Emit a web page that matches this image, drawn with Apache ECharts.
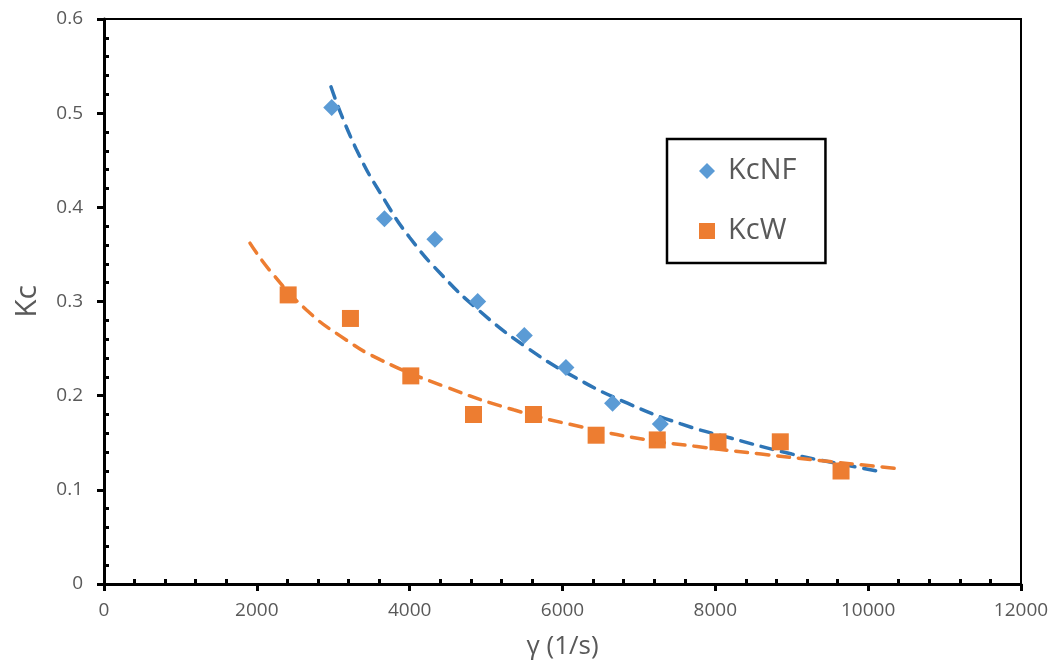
<!DOCTYPE html>
<html>
<head>
<meta charset="utf-8">
<script src="https://cdn.jsdelivr.net/npm/echarts@6/dist/echarts.min.js"></script>
<style>
html,body{margin:0;padding:0;background:#fff;}
#chart{width:1064px;height:671px;}
</style>
</head>
<body>
<div id="chart"></div>
<script>
// Measured data
const kcnfX = [2980, 3670, 4330, 4890, 5500, 6045, 6655, 7280];
const kcnfY = [0.506, 0.388, 0.366, 0.300, 0.264, 0.230, 0.192, 0.170];
const kcwX = [2410, 3225, 4015, 4835, 5620, 6440, 7240, 8035, 8850, 9645];
const kcwY = [0.307, 0.282, 0.221, 0.180, 0.180, 0.158, 0.153, 0.151, 0.151, 0.120];
// Trend lines
const trendNFX = [2970, 3300, 3700, 4000, 4400, 4900, 5500, 6150, 6850, 7550, 8200, 9000, 9600, 10180];
const trendNFY = [0.528, 0.462, 0.404, 0.368, 0.330, 0.291, 0.253, 0.220, 0.192, 0.170, 0.155, 0.138, 0.128, 0.119];
const trendWX = [1910, 2200, 2650, 3100, 3620, 4450, 5360, 6240, 7110, 7760, 8600, 9500, 10450];
const trendWY = [0.362, 0.330, 0.291, 0.263, 0.238, 0.210, 0.185, 0.167, 0.153, 0.146, 0.138, 0.130, 0.122];
const xTicks = [0, 12000, 2000];
const yTicks = [0, 0.6, 0.1];

const zip = (a, b) => a.map((v, i) => [v, b[i]]);
const FONT = "'Open Sans', sans-serif";
const chart = echarts.init(document.getElementById('chart'), null, {renderer: 'canvas'});
chart.setOption({
  animation: false,
  backgroundColor: '#ffffff',
  grid: {left: 104, right: 43, top: 19, bottom: 87, show: true, borderColor: '#000', borderWidth: 2, backgroundColor: 'transparent'},
  legend: {
    data: [{name: 'KcNF', icon: 'diamond'}, {name: 'KcW', icon: 'rect'}],
    orient: 'vertical', left: 667, top: 139,
    borderColor: '#000', borderWidth: 2.5, borderRadius: 0,
    padding: [16, 29, 16, 32],
    itemWidth: 16, itemHeight: 16, itemGap: 28,
    textStyle: {fontFamily: FONT, fontSize: 29, color: '#595959', lineHeight: 32, padding: [0, 0, 0, 8]}
  },
  xAxis: [{
    type: 'value', min: xTicks[0], max: xTicks[1], interval: xTicks[2],
    name: 'γ (1/s)', nameLocation: 'middle', nameGap: 50,
    nameTextStyle: {fontFamily: FONT, fontSize: 26, color: '#595959'},
    axisLine: {show: true, lineStyle: {color: '#000', width: 3}},
    axisTick: {show: true, inside: false, length: 7, lineStyle: {color: '#000', width: 3}},
    axisLabel: {fontFamily: FONT, fontSize: 19, color: '#595959', margin: 17,
      formatter: v => String(v)},
    splitLine: {show: false}
  }, {
    type: 'value', min: xTicks[0], max: xTicks[1], interval: xTicks[2], position: 'bottom',
    axisLine: {show: false}, axisLabel: {show: false}, splitLine: {show: false},
    axisTick: {show: false, inside: true},
    minorTick: {show: true, splitNumber: 5, length: 5, lineStyle: {color: '#000', width: 3}}
  }],
  yAxis: [{
    type: 'value', min: yTicks[0], max: yTicks[1], interval: yTicks[2],
    name: 'Kc', nameLocation: 'middle', nameGap: 62, nameRotate: 90,
    nameTextStyle: {fontFamily: FONT, fontSize: 30, color: '#595959'},
    axisLine: {show: true, lineStyle: {color: '#000', width: 3}},
    axisTick: {show: true, inside: false, length: 7, lineStyle: {color: '#000', width: 3}},
    axisLabel: {fontFamily: FONT, fontSize: 19, color: '#595959', margin: 21,
      formatter: v => String(Math.round(v * 10) / 10)},
    splitLine: {show: false}
  }, {
    type: 'value', min: yTicks[0], max: yTicks[1], interval: yTicks[2], position: 'left',
    axisLine: {show: false}, axisLabel: {show: false}, splitLine: {show: false},
    axisTick: {show: false, inside: true},
    minorTick: {show: true, splitNumber: 5, length: 5, lineStyle: {color: '#000', width: 3}}
  }],
  series: [{
    name: 'trendNF', type: 'line', smooth: true, symbol: 'none', silent: true,
    data: zip(trendNFX, trendNFY),
    lineStyle: {color: '#2E75B6', width: 3.5, type: [12, 9], cap: 'round'}, z: 2
  }, {
    name: 'trendW', type: 'line', smooth: true, symbol: 'none', silent: true,
    data: zip(trendWX, trendWY),
    lineStyle: {color: '#ED7D31', width: 3.5, type: [12, 9], cap: 'round'}, z: 2
  }, {
    name: 'KcNF', type: 'scatter', symbol: 'diamond', symbolSize: 17,
    itemStyle: {color: '#5B9BD5', opacity: 1},
    data: zip(kcnfX, kcnfY), z: 3
  }, {
    name: 'KcW', type: 'scatter', symbol: 'rect', symbolSize: 17,
    itemStyle: {color: '#ED7D31', opacity: 1},
    data: zip(kcwX, kcwY), z: 3
  }]
});
</script>
</body>
</html>
